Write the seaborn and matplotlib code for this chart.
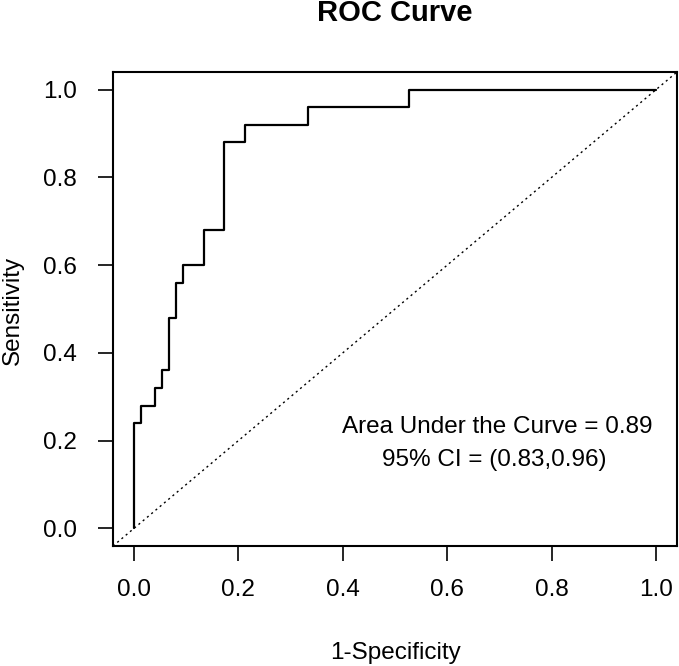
import matplotlib
matplotlib.use("Agg")
import matplotlib.pyplot as plt
import seaborn as sns
import pandas as pd

# ROC curve vertices (1 - specificity, sensitivity)
fpr = [0.0, 0.0, 0.0133, 0.0133, 0.04, 0.04, 0.0533, 0.0533, 0.0667, 0.0667,
       0.08, 0.08, 0.0933, 0.0933, 0.1333, 0.1333, 0.1733, 0.1733, 0.2133, 0.2133,
       0.3333, 0.3333, 0.5267, 0.5267, 1.0]
tpr = [0.0, 0.24, 0.24, 0.28, 0.28, 0.32, 0.32, 0.36, 0.36, 0.48,
       0.48, 0.56, 0.56, 0.60, 0.60, 0.68, 0.68, 0.88, 0.88, 0.92,
       0.92, 0.96, 0.96, 1.0, 1.0]
ticks = [0.0, 0.2, 0.4, 0.6, 0.8, 1.0]
tick_labels = ["0.0", "0.2", "0.4", "0.6", "0.8", "1.0"]
auc_text = "Area Under the Curve = 0.89"
ci_text = "95% CI = (0.83,0.96)"

sns.set_theme(style="white")
plt.rcParams["font.family"] = ["Liberation Sans", "DejaVu Sans"]

df = pd.DataFrame({"fpr": fpr, "tpr": tpr, "order": range(len(fpr))})

fig = plt.figure(figsize=(6.79, 6.66), dpi=100)
ax = fig.add_axes([113 / 679, 1 - 546 / 666, (677 - 113) / 679, (546 - 72) / 666])

sns.lineplot(data=df, x="fpr", y="tpr", sort=False, estimator=None,
             color="black", linewidth=1.6, ax=ax)
ax.axline((0, 0), (1, 1), color="black", linewidth=1.0, linestyle=(0, (1.5, 2.5)))

ax.set_xlim(-0.04, 1.04)
ax.set_ylim(-0.04, 1.04)
ax.set_xticks(ticks)
ax.set_xticklabels(tick_labels)
ax.set_yticks(ticks)
ax.set_yticklabels(tick_labels)
ax.tick_params(axis="both", direction="out", length=11, width=1.2, color="black",
               labelsize=17.5, labelcolor="black", bottom=True, left=True)
ax.tick_params(axis="x", pad=13)
ax.tick_params(axis="y", pad=15)

for s in ax.spines.values():
    s.set_visible(True)
    s.set_color("black")
    s.set_linewidth(1.5)

ax.set_xlabel("")
ax.set_ylabel("")
fig.text(395 / 679, 1 - 653 / 666, "1-Specificity", ha="center", va="center",
         fontsize=17.5, color="black")
fig.text(13 / 679, 1 - 310 / 666, "Sensitivity", ha="center", va="center",
         rotation=90, fontsize=17.5, color="black")
fig.text(395 / 679, 1 - 13 / 666, "ROC Curve", ha="center", va="center",
         fontsize=21, fontweight="bold", color="black")

ax.text(0.695, 0.232, auc_text, ha="center", va="center", fontsize=17.5, color="black")
ax.text(0.69, 0.157, ci_text, ha="center", va="center", fontsize=17.5, color="black")

fig.savefig("out.png", dpi=100, facecolor="white")
